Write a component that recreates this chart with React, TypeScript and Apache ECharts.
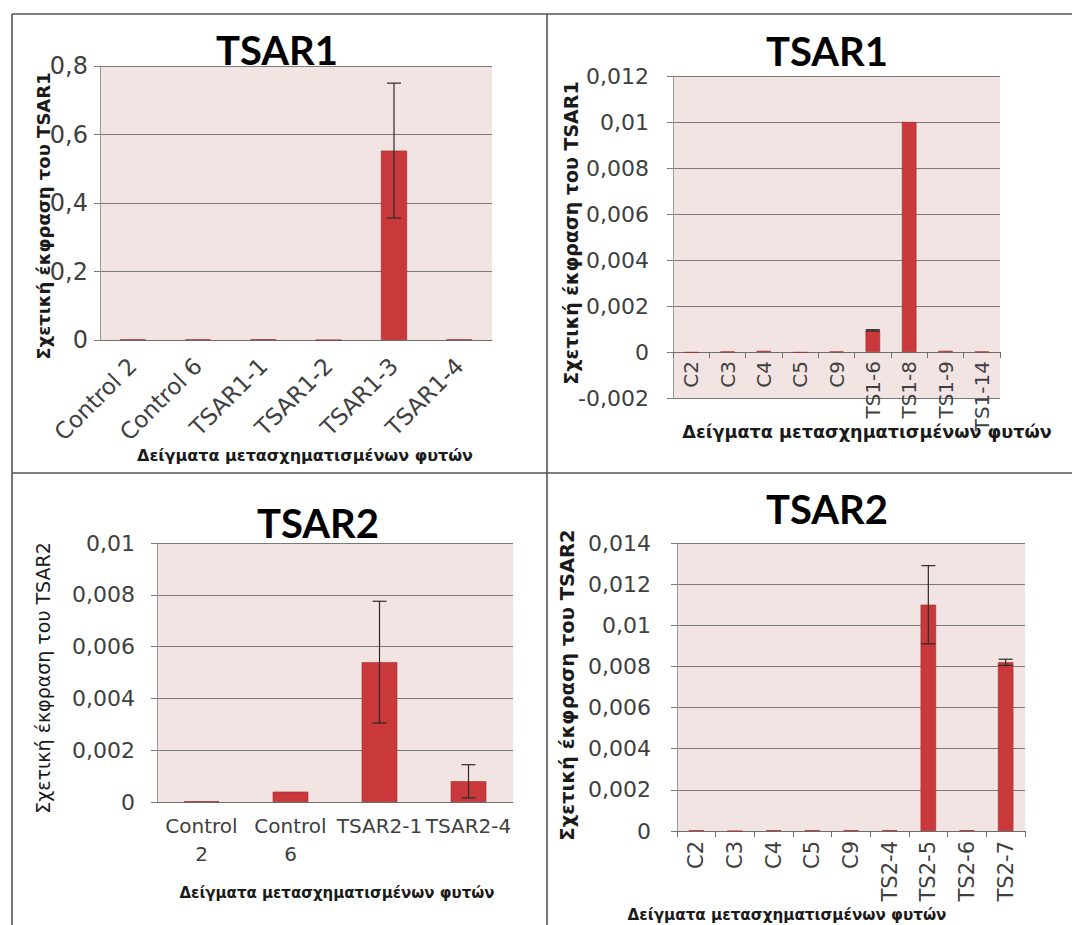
import React, { useEffect, useRef } from "react";
import * as echarts from "echarts";

// ---- Data ----
const p1Categories = ["Control 2", "Control 6", "TSAR1-1", "TSAR1-2", "TSAR1-3", "TSAR1-4"];
const p1Values = [0.002, 0.002, 0.002, 0, 0.553, 0.002];
const p1Errors = [0, 0, 0, 0, 0.197, 0];
const p1Range = [0, 0.8, 0.2];

const p2Categories = ["C2", "C3", "C4", "C5", "C9", "TS1-6", "TS1-8", "TS1-9", "TS1-14"];
const p2Values = [-0.00003, 0.00002, 0.00005, -0.00003, 0.00002, 0.00094, 0.01, 0.00005, 0.00002];
const p2Errors = [0, 0, 0, 0, 0, 0.00003, 0, 0, 0];
const p2Range = [-0.002, 0.012, 0.002];

const p3Categories = ["Control 2", "Control 6", "TSAR2-1", "TSAR2-4"];
const p3Values = [0.00003, 0.0004, 0.0054, 0.0008];
const p3Errors = [0, 0, 0.00235, 0.00064];
const p3Range = [0, 0.01, 0.002];

const p4Categories = ["C2", "C3", "C4", "C5", "C9", "TS2-4", "TS2-5", "TS2-6", "TS2-7"];
const p4Values = [0.00004, 0, 0.00004, 0.00004, 0.00004, 0.00004, 0.011, 0.00004, 0.0082];
const p4Errors = [0, 0, 0, 0, 0, 0, 0.0019, 0, 0.00015];
const p4Range = [0, 0.014, 0.002];

const titles = ["TSAR1", "TSAR1", "TSAR2", "TSAR2"];
const yNames = [
  "Σχετική έκφραση του TSAR1",
  "Σχετική έκφραση του TSAR1",
  "Σχετική έκφραση του TSAR2",
  "Σχετική έκφραση του TSAR2",
];
const xName = "Δείγματα μετασχηματισμένων φυτών";

// ---- Styling ----
const TITLE_FONT = "Lato, 'Open Sans', sans-serif";
const FONT = "'DejaVu Sans', 'Open Sans', sans-serif";
const BAR = "#c9393b";
const PLOT_BG = "#f3e4e4";
const GRID_LINE = "#7a7a7a";
const TEXT = "#404040";

const fmt = (v: number) => parseFloat(v.toPrecision(10)).toString().replace(".", ",");

type Panel = {
  cats: string[];
  vals: number[];
  errs: number[];
  range: number[];
  grid: { left: number; top: number; width: number; height: number };
  rotate: number;
  xFont: number;
  yFont: number;
  xTicks: boolean;
  labelMargin: number;
  yMargin: number;
  wrap?: boolean;
};

const panels: Panel[] = [
  { cats: p1Categories, vals: p1Values, errs: p1Errors, range: p1Range,
    grid: { left: 100, top: 66, width: 392, height: 274 }, rotate: 45, xFont: 23, yFont: 24, xTicks: false, labelMargin: 22, yMargin: 12 },
  { cats: p2Categories, vals: p2Values, errs: p2Errors, range: p2Range,
    grid: { left: 673, top: 76, width: 327, height: 322 }, rotate: 90, xFont: 20, yFont: 22, xTicks: true, labelMargin: -37, yMargin: 24 },
  { cats: p3Categories, vals: p3Values, errs: p3Errors, range: p3Range,
    grid: { left: 157, top: 543, width: 356, height: 259 }, rotate: 0, xFont: 20, yFont: 22, xTicks: false, labelMargin: 10, yMargin: 22, wrap: true },
  { cats: p4Categories, vals: p4Values, errs: p4Errors, range: p4Range,
    grid: { left: 677, top: 543, width: 348, height: 288 }, rotate: 90, xFont: 21, yFont: 22, xTicks: true, labelMargin: 10, yMargin: 26 },
];

const titlePos = [
  [277, 50],
  [827, 51],
  [318, 523],
  [827, 509],
];
const yNamePos = [
  { x: 43, y: 216, bold: true, size: 18 },
  { x: 571, y: 233, bold: true, size: 19 },
  { x: 43, y: 678, bold: false, size: 19 },
  { x: 567, y: 685, bold: true, size: 19.5 },
];
const xNamePos = [
  { x: 305, y: 455, size: 16 },
  { x: 867, y: 432, size: 17.6 },
  { x: 337, y: 893, size: 15 },
  { x: 787, y: 915, size: 15.2 },
];

function buildOption() {
  const grids: any[] = [];
  const xAxes: any[] = [];
  const yAxes: any[] = [];
  const series: any[] = [];
  const graphics: any[] = [];

  panels.forEach((p, i) => {
    grids.push({
      ...p.grid,
      show: true,
      backgroundColor: PLOT_BG,
      borderWidth: 0,
      containLabel: false,
    });
    xAxes.push({
      type: "category",
      gridIndex: i,
      data: p.cats,
      axisLine: { show: true, onZero: true, lineStyle: { color: "#6e6e6e", width: 1 } },
      axisTick: { show: p.xTicks, length: 6, lineStyle: { color: "#6e6e6e" } },
      axisLabel: {
        interval: 0,
        rotate: p.rotate,
        margin: p.labelMargin,
        fontFamily: FONT,
        fontSize: p.xFont,
        color: TEXT,
        lineHeight: 28,
        formatter: p.wrap ? (v: string) => v.replace(" ", "\n") : undefined,
      },
      splitLine: { show: false },
    });
    yAxes.push({
      type: "value",
      gridIndex: i,
      min: p.range[0],
      max: p.range[1],
      interval: p.range[2],
      axisLine: { show: true, lineStyle: { color: "#9a9a9a", width: 1 } },
      axisTick: { show: true, length: 6, lineStyle: { color: GRID_LINE } },
      axisLabel: {
        margin: p.yMargin,
        fontFamily: FONT,
        fontSize: p.yFont,
        color: TEXT,
        formatter: fmt,
      },
      splitLine: { show: true, lineStyle: { color: GRID_LINE, width: 1 } },
    });
    series.push({
      type: "bar",
      xAxisIndex: i,
      yAxisIndex: i,
      data: p.vals,
      barWidth: "40%",
      itemStyle: { color: BAR, borderColor: "#a02c2e", borderWidth: 0.6 },
      z: 3,
    });
    const errData = p.vals
      .map((v, k) => [k, v - p.errs[k], v + p.errs[k], p.errs[k]])
      .filter((d) => d[3] > 0);
    series.push({
      type: "custom",
      xAxisIndex: i,
      yAxisIndex: i,
      data: errData,
      z: 5,
      renderItem: (params: any, api: any) => {
        const lo = api.coord([api.value(0), api.value(1)]);
        const hi = api.coord([api.value(0), api.value(2)]);
        const hw = 7;
        const style = { stroke: "#2a2a2a", lineWidth: 1.2 };
        return {
          type: "group",
          children: [
            { type: "line", shape: { x1: hi[0], y1: hi[1], x2: lo[0], y2: lo[1] }, style },
            { type: "line", shape: { x1: hi[0] - hw, y1: hi[1], x2: hi[0] + hw, y2: hi[1] }, style },
            { type: "line", shape: { x1: lo[0] - hw, y1: lo[1], x2: lo[0] + hw, y2: lo[1] }, style },
          ],
        };
      },
    });

    graphics.push({
      type: "text",
      x: titlePos[i][0],
      y: titlePos[i][1],
      style: {
        text: titles[i],
        fontFamily: TITLE_FONT,
        fontSize: 40,
        fontWeight: "bold",
        fill: "#000",
        align: "center",
        verticalAlign: "middle",
      },
      z: 10,
    });
    graphics.push({
      type: "text",
      x: yNamePos[i].x,
      y: yNamePos[i].y,
      rotation: Math.PI / 2,
      style: {
        text: yNames[i],
        fontFamily: FONT,
        fontSize: yNamePos[i].size,
        fontWeight: yNamePos[i].bold ? "bold" : "normal",
        fill: "#1a1a1a",
        align: "center",
        verticalAlign: "middle",
      },
      z: 10,
    });
    graphics.push({
      type: "text",
      x: xNamePos[i].x,
      y: xNamePos[i].y,
      style: {
        text: xName,
        fontFamily: FONT,
        fontSize: xNamePos[i].size,
        fontWeight: "bold",
        fill: "#1a1a1a",
        align: "center",
        verticalAlign: "middle",
      },
      z: 10,
    });
  });

  // frame lines
  const frame = { stroke: "#555", lineWidth: 1.6 };
  graphics.push(
    { type: "line", shape: { x1: 12, y1: 14, x2: 1072, y2: 14 }, style: frame, z: 20 },
    { type: "line", shape: { x1: 12, y1: 14, x2: 12, y2: 925 }, style: frame, z: 20 },
    { type: "line", shape: { x1: 547, y1: 14, x2: 547, y2: 925 }, style: frame, z: 20 },
    { type: "line", shape: { x1: 12, y1: 473, x2: 1072, y2: 473 }, style: frame, z: 20 }
  );

  return {
    animation: false,
    backgroundColor: "#ffffff",
    grid: grids,
    xAxis: xAxes,
    yAxis: yAxes,
    series,
    graphic: graphics,
  };
}

export default function App() {
  const ref = useRef<HTMLDivElement>(null);
  useEffect(() => {
    if (!ref.current) return;
    const chart = echarts.init(ref.current, undefined, { renderer: "svg" });
    chart.setOption(buildOption() as any);
    return () => chart.dispose();
  }, []);
  return (
    <div
      ref={ref}
      style={{ position: "absolute", left: 0, top: 0, width: 1072, height: 925, background: "#fff" }}
    />
  );
}
